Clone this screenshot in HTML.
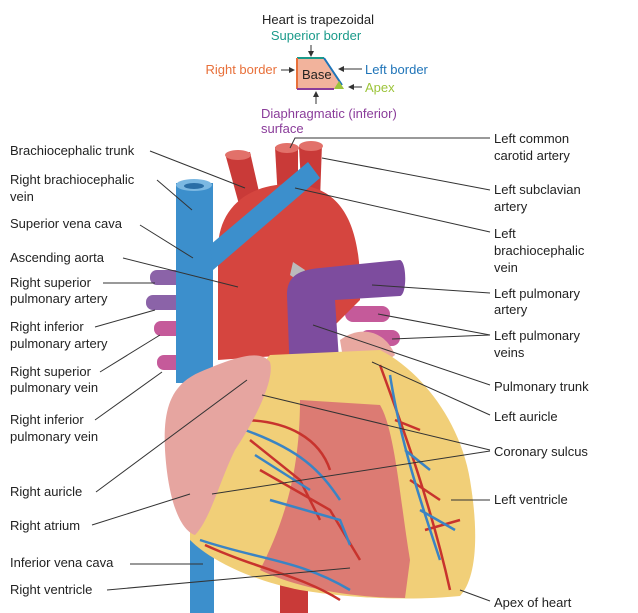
<!DOCTYPE html>
<html><head><meta charset="utf-8"><style>
html,body{margin:0;padding:0;background:#fff}
svg{display:block}
text{font-family:"Liberation Sans",sans-serif;font-size:13px;fill:#222}
.l{stroke:#333;stroke-width:1;fill:none}
.r{stroke:#c8332d;stroke-width:2.5;fill:none}
.b{stroke:#3a84c4;stroke-width:2.5;fill:none}
</style></head><body>
<svg width="638" height="613" viewBox="0 0 638 613" xmlns="http://www.w3.org/2000/svg">
<defs>
<marker id="a" markerWidth="6" markerHeight="6" refX="5" refY="3" orient="auto"><path d="M0,0L6,3L0,6z" fill="#333"/></marker>
</defs>
<!-- inset -->
<text x="318" y="24" text-anchor="middle" font-size="12">Heart is trapezoidal</text>
<text x="316" y="40" text-anchor="middle" font-size="12" style="fill:#1a9a8a">Superior border</text>
<line x1="311" y1="45" x2="311" y2="56" class="l" marker-end="url(#a)"/>
<polygon points="297,58 324,58 344,89 297,89" fill="#f2b39c"/>
<line x1="297" y1="58" x2="324" y2="58" stroke="#1a9a8a" stroke-width="2"/>
<line x1="297" y1="58" x2="297" y2="89" stroke="#e8703a" stroke-width="2"/>
<line x1="324" y1="58" x2="342" y2="85" stroke="#1f74b8" stroke-width="2"/>
<line x1="297" y1="89" x2="334" y2="89" stroke="#8a3c9a" stroke-width="2"/>
<polygon points="334,89 344,89 339,81" fill="#9cc43a"/>
<text x="302" y="79" font-size="12">Base</text>
<text x="277" y="74" text-anchor="end" font-size="12" style="fill:#e8703a">Right border</text>
<line x1="281" y1="70" x2="294" y2="70" class="l" marker-end="url(#a)"/>
<text x="365" y="74" font-size="12" style="fill:#1f74b8">Left border</text>
<line x1="362" y1="69" x2="339" y2="69" class="l" marker-end="url(#a)"/>
<text x="365" y="92" font-size="12" style="fill:#9cc43a">Apex</text>
<line x1="362" y1="87" x2="349" y2="87" class="l" marker-end="url(#a)"/>
<line x1="316" y1="104" x2="316" y2="92" class="l" marker-end="url(#a)"/>
<text x="261" y="118" font-size="12" style="fill:#8a3c9a">Diaphragmatic (inferior)</text>
<text x="261" y="133" font-size="12" style="fill:#8a3c9a">surface</text>

<!-- drawing -->
<rect x="150" y="270" width="40" height="15" rx="7" fill="#8b63a8"/>
<rect x="146" y="295" width="44" height="15" rx="7" fill="#8b63a8"/>
<rect x="154" y="321" width="36" height="15" rx="7" fill="#c55a9a"/>
<rect x="157" y="355" width="36" height="15" rx="7" fill="#c55a9a"/>
<rect x="345" y="306" width="45" height="16" rx="8" fill="#c55a9a"/>
<rect x="360" y="330" width="40" height="16" rx="8" fill="#c55a9a"/>
<!-- arteries -->
<path d="M226,157 L250,152 L262,205 L240,208 Z" fill="#c93a38"/>
<ellipse cx="238" cy="155" rx="13" ry="5" fill="#e2716a"/>
<path d="M275,147 L298,147 L298,200 L278,200 Z" fill="#c93a38"/>
<ellipse cx="287" cy="148" rx="12" ry="5" fill="#e2716a"/>
<path d="M299,147 L322,144 L320,200 L302,200 Z" fill="#c93a38"/>
<ellipse cx="311" cy="146" rx="12" ry="5" fill="#e2716a"/>
<rect x="280" y="570" width="28" height="43" fill="#c93a38"/>
<!-- aorta arch -->
<path d="M218,360 L218,250 C218,200 260,180 300,185 C350,190 362,240 360,300 L330,330 L290,355 Z" fill="#d5453f"/>
<path d="M293,262 L305,270 L300,282 L290,275 Z" fill="#bbb"/>
<!-- SVC & veins -->
<rect x="176" y="183" width="37" height="200" fill="#3c8fcc"/>
<ellipse cx="194" cy="185" rx="18" ry="6" fill="#7bb8e2"/>
<ellipse cx="194" cy="186" rx="10" ry="3" fill="#2a6ea6"/>
<path d="M210,245 L308,162 L320,178 L213,270 Z" fill="#3c8fcc"/>
<rect x="190" y="520" width="24" height="93" fill="#3c8fcc"/>
<!-- pulmonary trunk -->
<path d="M287,295 C287,275 300,270 320,268 L400,260 C407,262 407,295 400,296 L335,300 L340,375 L290,378 Z" fill="#7d4c9e"/>
<path d="M340,340 C360,325 385,330 395,355 L375,370 L345,370 Z" fill="#e8a8a0"/>
<!-- ventricles -->
<path d="M190,520 C200,470 230,400 270,355 L380,350 C420,370 460,420 470,480 C480,540 475,580 460,596 C420,600 360,600 300,590 C250,580 210,560 190,540 Z" fill="#f1cf78"/>
<path d="M300,400 L380,405 C395,430 400,500 410,560 L405,598 C360,598 300,590 260,570 C280,530 300,480 300,400 Z" fill="#dc7b73"/>
<path d="M240,420 C290,420 320,440 330,470 M250,440 L300,480 L320,520 M260,470 L330,510 L360,560" class="r"/>
<path d="M245,430 C300,450 320,470 340,500 M255,455 L310,490 M270,500 L340,520 L350,545" class="b"/>
<path d="M380,365 C400,420 430,500 450,590 M395,420 L420,430 M410,480 L440,500 M425,530 L460,520" class="r"/>
<path d="M390,375 C400,440 420,500 440,560 M405,450 L430,470 M420,510 L455,530" class="b"/>
<path d="M200,540 C260,560 300,560 350,590" class="b"/>
<path d="M205,545 C260,570 300,575 340,600" class="r"/>
<!-- right atrium -->
<path d="M200,372 C240,355 260,350 270,362 C275,380 255,420 235,450 C220,480 210,520 195,535 C180,530 168,500 165,450 C163,410 170,385 200,372 Z" fill="#e6a5a0"/>

<!-- left labels -->
<text x="10" y="155">Brachiocephalic trunk</text>
<line x1="150" y1="151" x2="245" y2="188" class="l"/>
<text x="10" y="184">Right brachiocephalic</text><text x="10" y="201">vein</text>
<line x1="157" y1="180" x2="192" y2="210" class="l"/>
<text x="10" y="228">Superior vena cava</text>
<line x1="140" y1="225" x2="193" y2="258" class="l"/>
<text x="10" y="262">Ascending aorta</text>
<line x1="123" y1="258" x2="238" y2="287" class="l"/>
<text x="10" y="287">Right superior</text><text x="10" y="303">pulmonary artery</text>
<line x1="103" y1="283" x2="155" y2="283" class="l"/>
<text x="10" y="331">Right inferior</text><text x="10" y="348">pulmonary artery</text>
<line x1="95" y1="327" x2="155" y2="310" class="l"/>
<text x="10" y="376">Right superior</text><text x="10" y="392">pulmonary vein</text>
<line x1="100" y1="372" x2="160" y2="335" class="l"/>
<text x="10" y="424">Right inferior</text><text x="10" y="441">pulmonary vein</text>
<line x1="95" y1="420" x2="162" y2="372" class="l"/>
<text x="10" y="496">Right auricle</text>
<line x1="96" y1="492" x2="247" y2="380" class="l"/>
<text x="10" y="530">Right atrium</text>
<line x1="92" y1="525" x2="190" y2="494" class="l"/>
<text x="10" y="567">Inferior vena cava</text>
<line x1="130" y1="564" x2="203" y2="564" class="l"/>
<text x="10" y="594">Right ventricle</text>
<line x1="107" y1="590" x2="350" y2="568" class="l"/>

<!-- right labels -->
<text x="494" y="143">Left common</text><text x="494" y="160">carotid artery</text>
<polyline points="490,138 295,138 290,148" class="l"/>
<text x="494" y="194">Left subclavian</text><text x="494" y="211">artery</text>
<line x1="490" y1="190" x2="322" y2="158" class="l"/>
<text x="494" y="238">Left</text><text x="494" y="255">brachiocephalic</text><text x="494" y="272">vein</text>
<line x1="490" y1="232" x2="295" y2="188" class="l"/>
<text x="494" y="298">Left pulmonary</text><text x="494" y="314">artery</text>
<line x1="490" y1="293" x2="372" y2="285" class="l"/>
<text x="494" y="340">Left pulmonary</text><text x="494" y="357">veins</text>
<line x1="490" y1="335" x2="378" y2="314" class="l"/>
<line x1="490" y1="335" x2="392" y2="339" class="l"/>
<text x="494" y="391">Pulmonary trunk</text>
<line x1="490" y1="385" x2="313" y2="325" class="l"/>
<text x="494" y="421">Left auricle</text>
<line x1="490" y1="415" x2="372" y2="362" class="l"/>
<text x="494" y="456">Coronary sulcus</text>
<line x1="490" y1="450" x2="262" y2="395" class="l"/>
<line x1="490" y1="451" x2="212" y2="494" class="l"/>
<text x="494" y="504">Left ventricle</text>
<line x1="490" y1="500" x2="451" y2="500" class="l"/>
<text x="494" y="607">Apex of heart</text>
<line x1="490" y1="601" x2="460" y2="590" class="l"/>
</svg>
</body></html>
